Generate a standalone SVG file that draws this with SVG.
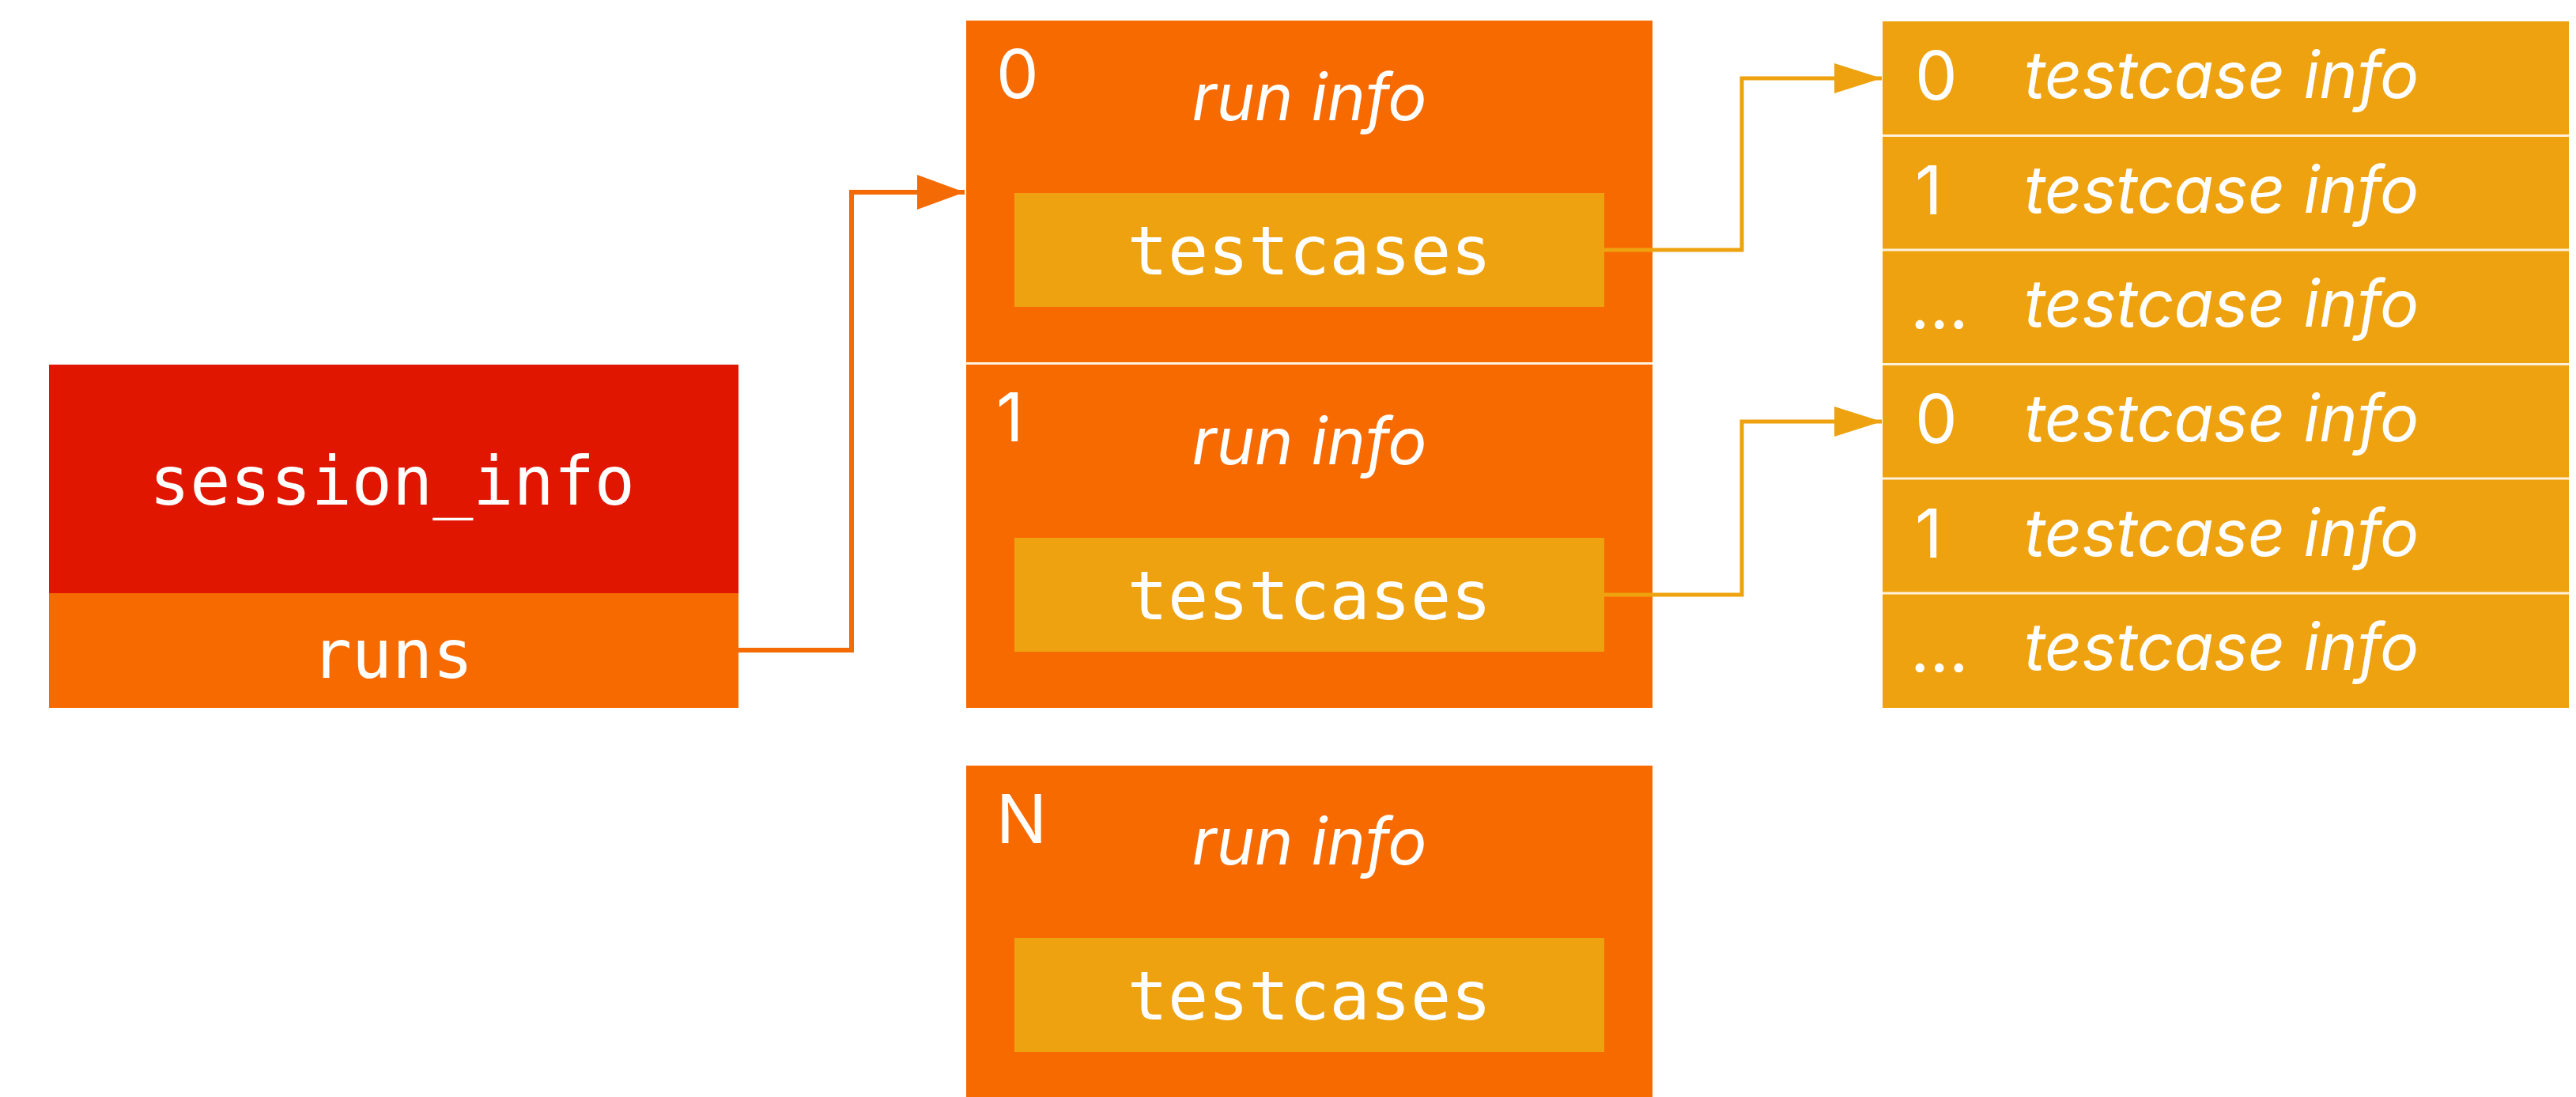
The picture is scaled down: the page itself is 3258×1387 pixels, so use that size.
<svg xmlns="http://www.w3.org/2000/svg" width="3258" height="1387" viewBox="0 0 3258 1387">
  <defs>
    <style>
      .red { fill: #E11600; }
      .orange { fill: #F76A00; }
      .gold { fill: #EEA20F; }
      .div { stroke: #FFF1DC; stroke-width: 3; }
      .mono { font-family: "DejaVu Sans Mono", "Liberation Mono", monospace; font-size: 85px; fill: #FFFFFF; text-anchor: middle; }
      .ital { font-family: Inter, "Liberation Sans", sans-serif; font-style: italic; font-size: 82px; fill: #FFFFFF; }
      .lbl { font-family: Inter, "Liberation Sans", sans-serif; font-size: 85px; fill: #FFFFFF; }
      .c-orange { fill: none; stroke: #F46A05; stroke-width: 6; }
      .c-gold { fill: none; stroke: #EEA20F; stroke-width: 5; }
    </style>
    <marker id="arrO" markerUnits="userSpaceOnUse" markerWidth="62" markerHeight="46" refX="60" refY="22" orient="auto">
      <path d="M0,0 L60,22 L0,44 Z" fill="#F46A05"/>
    </marker>
    <marker id="arrG" markerUnits="userSpaceOnUse" markerWidth="62" markerHeight="40" refX="60" refY="19" orient="auto">
      <path d="M0,0 L60,19 L0,38 Z" fill="#EEA20F"/>
    </marker>
  </defs>
  <rect width="3258" height="1387" fill="#FFFFFF"/>

  <g id="session_info">
    <rect class="red" x="62" y="461" width="872" height="289"/>
    <rect class="orange" x="62" y="750" width="872" height="145"/>
    <text class="mono" x="496" y="638">session_info</text>
    <text class="mono" x="496" y="857">runs</text>
  </g>

  <g id="run_0">
    <rect class="orange" x="1222" y="26" width="868" height="433"/>
    <text class="lbl" x="1260" y="124">0</text>
    <text class="ital" x="1656" y="152" text-anchor="middle">run info</text>
    <rect class="gold" x="1283" y="244" width="746" height="144"/>
    <text class="mono" x="1656" y="347">testcases</text>
  </g>

  <g id="run_1">
    <rect class="orange" x="1222" y="460" width="868" height="435"/>
    <line class="div" x1="1222" y1="459.5" x2="2090" y2="459.5"/>
    <text class="lbl" x="1260" y="558">1</text>
    <text class="ital" x="1656" y="587" text-anchor="middle">run info</text>
    <rect class="gold" x="1283" y="680" width="746" height="144"/>
    <text class="mono" x="1656" y="783">testcases</text>
  </g>

  <g id="run_N">
    <rect class="orange" x="1222" y="968" width="868" height="432"/>
    <text class="lbl" x="1260" y="1066">N</text>
    <text class="ital" x="1656" y="1093" text-anchor="middle">run info</text>
    <rect class="gold" x="1283" y="1186" width="746" height="144"/>
    <text class="mono" x="1656" y="1289">testcases</text>
  </g>

  <g id="testcases_run_0">
    <rect class="gold" x="2381" y="27" width="868" height="434"/>
    <line class="div" x1="2381" y1="171.5" x2="3249" y2="171.5"/>
    <line class="div" x1="2381" y1="316" x2="3249" y2="316"/>
    <text class="lbl" x="2422" y="126">0</text>
    <text class="ital" x="2560" y="124">testcase info</text>
    <text class="lbl" x="2422" y="271">1</text>
    <text class="ital" x="2560" y="269">testcase info</text>
    <text class="lbl" x="2416" y="415">...</text>
    <text class="ital" x="2560" y="413">testcase info</text>
  </g>

  <g id="testcases_run_1">
    <rect class="gold" x="2381" y="461" width="868" height="434"/>
    <line class="div" x1="2381" y1="460.5" x2="3249" y2="460.5"/>
    <line class="div" x1="2381" y1="605" x2="3249" y2="605"/>
    <line class="div" x1="2381" y1="750" x2="3249" y2="750"/>
    <text class="lbl" x="2422" y="560">0</text>
    <text class="ital" x="2560" y="558">testcase info</text>
    <text class="lbl" x="2422" y="705">1</text>
    <text class="ital" x="2560" y="703">testcase info</text>
    <text class="lbl" x="2416" y="849">...</text>
    <text class="ital" x="2560" y="847">testcase info</text>
  </g>

  <g id="connectors">
    <polyline class="c-orange" points="934,822 1077,822 1077,243 1220,243" marker-end="url(#arrO)"/>
    <polyline class="c-gold" points="2029,316 2203,316 2203,99 2380,99" marker-end="url(#arrG)"/>
    <polyline class="c-gold" points="2029,752 2203,752 2203,533 2380,533" marker-end="url(#arrG)"/>
  </g>
</svg>
